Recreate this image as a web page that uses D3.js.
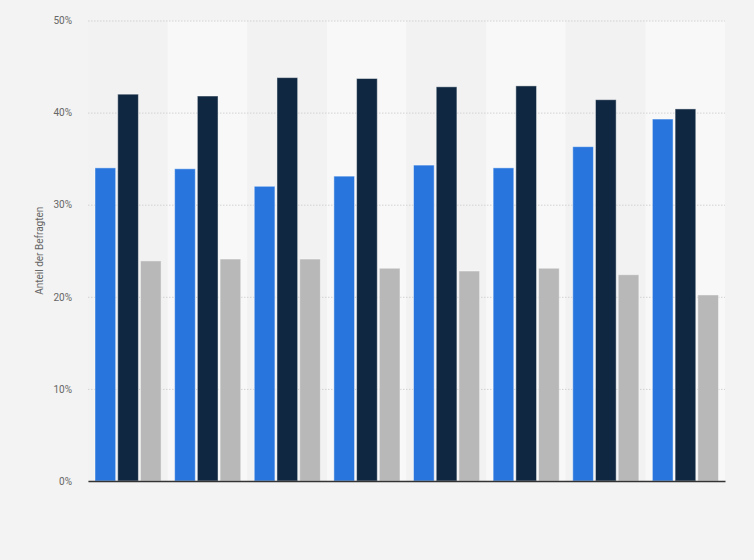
<!DOCTYPE html>
<html>
<head>
<meta charset="utf-8">
<script src="https://cdn.jsdelivr.net/npm/d3@7"></script>
<style>
  html, body { margin: 0; padding: 0; background: #f3f3f3; }
  svg { display: block; }
</style>
</head>
<body>
<div id="chart"></div>
<script>
// ---- data ----
const categories = ["G1", "G2", "G3", "G4", "G5", "G6", "G7", "G8"];
const seriesNames = ["Serie A", "Serie B", "Serie C"];
const seriesA = [34.0, 33.9, 32.0, 33.1, 34.3, 34.0, 36.3, 39.3];
const seriesB = [42.0, 41.8, 43.8, 43.7, 42.8, 42.9, 41.4, 40.4];
const seriesC = [23.9, 24.1, 24.1, 23.1, 22.8, 23.1, 22.4, 20.2];
const yTicks = [0, 10, 20, 30, 40, 50];
const yTitle = "Anteil der Befragten";

const seriesColors = ["#2876dd", "#0f2740", "#b8b8b8"];
const seriesValues = [seriesA, seriesB, seriesC];

const W = 754, H = 560;
const margin = { top: 20.5, right: 29, bottom: 79, left: 88 };
const innerW = W - margin.left - margin.right;
const innerH = H - margin.top - margin.bottom;

const svg = d3.select("#chart").append("svg")
  .attr("width", W).attr("height", H);

svg.append("rect").attr("width", W).attr("height", H).attr("fill", "#f3f3f3");

const g = svg.append("g").attr("transform", `translate(${margin.left},${margin.top})`);

const x0 = d3.scaleBand().domain(categories).range([0, innerW]).padding(0);
const x1 = d3.scaleBand().domain(seriesNames)
  .range([7, x0.bandwidth() - 6.5]).paddingInner(0.09);
const y = d3.scaleLinear().domain([0, 50]).range([innerH, 0]);

// alternating column bands
g.selectAll("rect.band").data(categories).enter().append("rect")
  .attr("class", "band")
  .attr("x", d => x0(d))
  .attr("y", 0)
  .attr("width", x0.bandwidth())
  .attr("height", innerH)
  .attr("fill", (d, i) => i % 2 === 1 ? "#f8f8f8" : "#f2f2f2");

// grid lines
const yAxis = d3.axisLeft(y).tickValues(yTicks).tickFormat(d => d + "%")
  .tickSize(-innerW).tickPadding(16);
const ya = g.append("g").call(yAxis);
ya.select(".domain").remove();
ya.selectAll(".tick line")
  .attr("stroke", "#d2d2d2")
  .attr("stroke-dasharray", "1.5,1.5")
  .attr("stroke-width", 1);
ya.selectAll(".tick text")
  .attr("fill", "#666")
  .style("font-family", "Roboto, 'Open Sans', sans-serif")
  .style("font-size", "10px");

// bars
const data = categories.map((c, i) => ({
  cat: c,
  vals: seriesNames.map((s, j) => ({ s, v: seriesValues[j][i], color: seriesColors[j] }))
}));

const groups = g.selectAll("g.grp").data(data).enter().append("g")
  .attr("class", "grp")
  .attr("transform", d => `translate(${x0(d.cat)},0)`);

groups.selectAll("rect").data(d => d.vals).enter().append("rect")
  .attr("x", d => x1(d.s))
  .attr("y", d => y(d.v))
  .attr("width", x1.bandwidth())
  .attr("height", d => innerH - y(d.v))
  .attr("fill", d => d.color)
  .attr("stroke", "rgba(255,255,255,0.45)")
  .attr("stroke-width", 1);

// x axis baseline
const xAxis = d3.axisBottom(x0).tickSize(0).tickFormat("");
const xa = g.append("g").attr("transform", `translate(0,${innerH})`).call(xAxis);
xa.select(".domain").attr("stroke", "#333").attr("stroke-width", 1.5);

// y title
svg.append("text")
  .attr("transform", `translate(43,${margin.top + innerH / 2}) rotate(-90)`)
  .attr("text-anchor", "middle")
  .attr("fill", "#666")
  .style("font-family", "Roboto, 'Open Sans', sans-serif")
  .style("font-size", "10px")
  .text(yTitle);
</script>
</body>
</html>
